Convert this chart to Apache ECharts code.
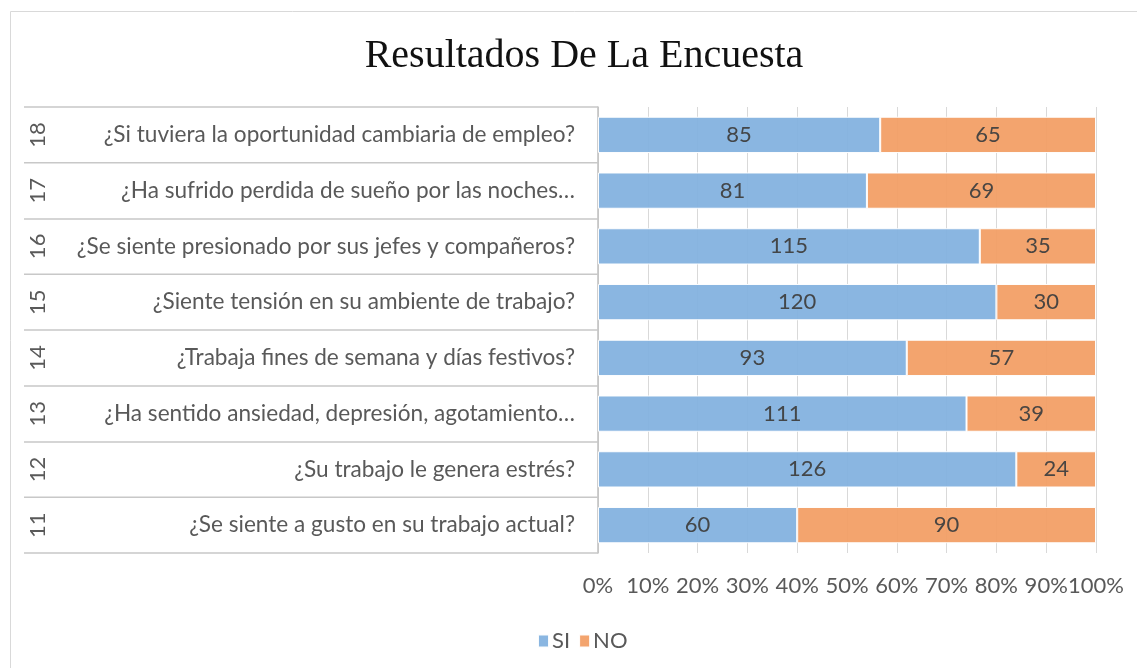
<!DOCTYPE html>
<html>
<head>
<meta charset="utf-8">
<script src="https://cdn.jsdelivr.net/npm/echarts@6/dist/echarts.min.js"></script>
<style>
    html, body {margin: 0; padding: 0; background: #fff;}
    #chart {width: 1137px; height: 668px;}
</style>
</head>
<body>
<div id="chart"></div>
<script>
// datos de la encuesta (de abajo hacia arriba)
var numeros = ['11', '12', '13', '14', '15', '16', '17', '18'];
var preguntas = [
    '¿Se siente a gusto en su trabajo actual?',
    '¿Su trabajo le genera estrés?',
    '¿Ha sentido ansiedad, depresión, agotamiento…',
    '¿Trabaja fines de semana y días festivos?',
    '¿Siente tensión en su ambiente de trabajo?',
    '¿Se siente presionado por sus jefes y compañeros?',
    '¿Ha sufrido perdida de sueño por las noches…',
    '¿Si tuviera la oportunidad cambiaria de empleo?'
];
var si = [60, 126, 111, 93, 120, 115, 81, 85];
var no = [90, 24, 39, 57, 30, 35, 69, 65];
var ticksX = ['0%', '10%', '20%', '30%', '40%', '50%', '60%', '70%', '80%', '90%', '100%'];

var fuente = 'Lato, "Open Sans", sans-serif';
var gris = '#595959';
var tam = 22;

//porcentaje apilado al 100%
function porcentaje(valores) {
    return valores.map(function (v, i) {
        return {value: v / (si[i] + no[i]) * 100, raw: v};
    });
}

var myChart = echarts.init(document.getElementById('chart'));
myChart.setOption({
    animation: false,
    title: {
        text: 'Resultados De La Encuesta',
        left: 579,
        textAlign: 'center',
        top: 31,
        textStyle: {
            fontFamily: '"Liberation Serif", "Times New Roman", serif',
            fontWeight: 'normal',
            fontSize: 40,
            color: '#111'
        }
    },
    graphic: [{
        type: 'rect',
        shape: {x: 10.5, y: 11.5, width: 1200, height: 700},
        style: {fill: 'none', stroke: '#d9d9d9', lineWidth: 1},
        silent: true
    }],
    legend: {
        data: ['SI', 'NO'],
        left: 532,
        top: 625,
        itemWidth: 11,
        itemHeight: 13,
        itemGap: 8,
        icon: 'rect',
        textStyle: {fontFamily: fuente, fontSize: tam, color: gris, padding: [0, 0, 0, -2]}
    },
    grid: {left: 598, right: 41, top: 107, bottom: 115, containLabel: false},
    xAxis: {
        type: 'value',
        min: 0,
        max: 100,
        interval: 10,
        axisLine: {show: false},
        axisTick: {show: false},
        splitLine: {show: true, lineStyle: {color: '#d9d9d9', width: 1}},
        axisLabel: {
            margin: 22,
            fontFamily: fuente,
            fontSize: tam,
            color: gris,
            formatter: function (v) {
                return ticksX[Math.round(v / 10)];
            }
        }
    },
    yAxis: [{
        type: 'category',
        data: preguntas,
        axisLine: {show: true, lineStyle: {color: '#bfbfbf', width: 1.5}},
        axisTick: {show: true, length: 574, lineStyle: {color: '#c8c8c8', width: 1.5}},
        axisLabel: {margin: 23, fontFamily: fuente, fontSize: 22.6, color: gris}
    }, {
        type: 'category',
        data: numeros,
        position: 'left',
        offset: 541,
        axisLine: {show: false},
        axisTick: {show: false},
        axisLabel: {rotate: 90, margin: 8, fontFamily: fuente, fontSize: tam, color: gris}
    }],
    series: [{
        name: 'SI',
        type: 'bar',
        stack: 'total',
        yAxisIndex: 0,
        barCategoryGap: '35%',
        data: porcentaje(si),
        itemStyle: {color: '#84b2df', opacity: 0.95, borderColor: '#fff', borderWidth: 1},
        label: {
            show: true,
            position: 'inside',
            fontFamily: fuente,
            fontSize: tam,
            color: '#404040',
            formatter: function (p) { return p.data.raw; }
        }
    }, {
        name: 'NO',
        type: 'bar',
        stack: 'total',
        yAxisIndex: 0,
        barCategoryGap: '35%',
        data: porcentaje(no),
        itemStyle: {color: '#f29f66', opacity: 0.95, borderColor: '#fff', borderWidth: 1},
        label: {
            show: true,
            position: 'inside',
            fontFamily: fuente,
            fontSize: tam,
            color: '#404040',
            formatter: function (p) { return p.data.raw; }
        }
    }]
});
</script>
</body>
</html>
